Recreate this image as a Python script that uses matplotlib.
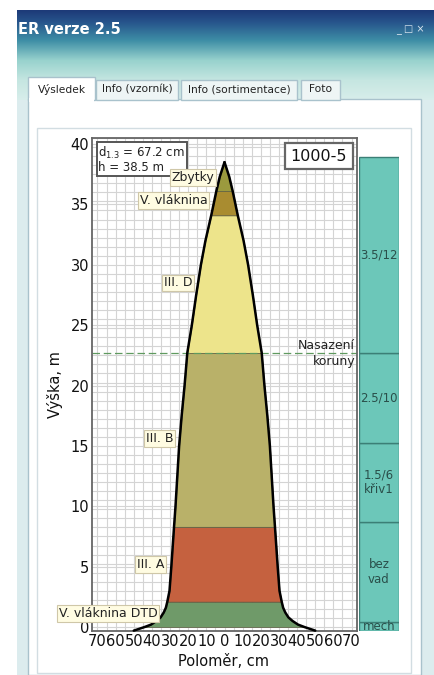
import numpy as np
import matplotlib
matplotlib.use("Agg")
import matplotlib.pyplot as plt
from matplotlib.patches import Rectangle

plt.rcParams['font.family'] = ['DejaVu Sans']

# stem profile: height (m) -> radius (cm)
heights = [-0.3, -0.15, 0.0, 0.2, 0.5, 0.8, 1.2, 1.6, 2.1, 3.0, 5.0, 8.3, 10.0, 12.5,
           15.0, 17.5, 20.0, 22.7, 25.0, 27.5, 30.0, 32.0, 34.1, 36.1, 37.3, 38.5]
radii = [50.0, 47.0, 44.0, 40.5, 37.5, 35.2, 33.5, 32.3, 31.5, 30.3, 29.3, 27.8, 27.0, 26.0,
         25.0, 23.6, 22.0, 20.5, 18.0, 15.6, 13.0, 10.5, 7.3, 4.5, 2.6, 0.0]

# assortment bands along the stem
band_names = ["V. vláknina DTD", "III. A", "III. B", "III. D", "V. vláknina", "Zbytky"]
band_lo = [0.0, 2.1, 8.3, 22.7, 34.1, 36.1]
band_hi = [2.1, 8.3, 22.7, 34.1, 36.1, 38.5]
band_colors = ["#6f9a69", "#c5613f", "#b9b169", "#ede48b", "#a98c30", "#9b9a3e"]
label_x = [-37.0, -33.0, -28.2, -17.7, -9.4, -5.5]
label_h = [1.1, 5.2, 15.6, 28.5, 35.3, 37.2]

# quality sections (side bar)
sec_labels = ["mech", "bez\nvad", "1.5/6\nkřiv1", "2.5/10", "3.5/12"]
sec_lo = [-0.33, 0.4, 8.7, 15.25, 22.7]
sec_hi = [0.4, 8.7, 15.25, 22.7, 38.9]

crown_base = 22.7
d13 = 67.2
tree_h = 38.5
tree_id = "1000-5"

x_ticks = list(range(-70, 71, 10))
y_ticks = list(range(0, 41, 5))

W, H = 435, 675
fig = plt.figure(figsize=(W / 100, H / 100), dpi=100)

# ---- window chrome ----
bg = fig.add_axes([0, 0, 1, 1])
bg.set_xlim(0, W)
bg.set_ylim(H, 0)
bg.axis("off")

bg.add_patch(Rectangle((17, 100), W - 17, H - 100, facecolor="#dcecee", edgecolor="none"))
stops_y = [0, 12, 30, 50, 70, 90]
stops_c = np.array([[0x1d, 0x3a, 0x78], [0x27, 0x55, 0x8c], [0x3e, 0x8e, 0xa6],
                    [0x98, 0xd2, 0xcd], [0xc6, 0xe6, 0xe1], [0xd8, 0xee, 0xeb]]) / 255
rows = np.arange(90)
grad = np.stack([np.interp(rows, stops_y, stops_c[:, k]) for k in range(3)], axis=1)
bg.imshow(grad[:, None, :], extent=(17, W, 100, 10), aspect="auto", origin="upper", zorder=1)
bg.text(18, 29, "ER verze 2.5", color="white", fontsize=10.5, fontweight="bold",
        va="center", ha="left", zorder=3)
bg.text(425, 30, "_ □ ×", color="#d8e4ee", fontsize=7, va="center", ha="right", zorder=3)

# tab panel
bg.add_patch(Rectangle((28, 99), 393, H - 99, facecolor="white", edgecolor="#a9c2cc", lw=1, zorder=2))
tabs = [("Výsledek", 28, 95), ("Info (vzorník)", 96, 178),
        ("Info (sortimentace)", 181, 297), ("Foto", 301, 340)]
for i, (t, x0, x1) in enumerate(tabs):
    top = 77 if i == 0 else 80
    fc = "white" if i == 0 else "#eef5f5"
    bg.add_patch(Rectangle((x0, top), x1 - x0, 100 - top, facecolor=fc,
                           edgecolor="#a9c2cc", lw=1, zorder=3))
    bg.text((x0 + x1) / 2, 89.5, t, fontsize=7.7, color="#222222", ha="center", va="center", zorder=4)
bg.add_patch(Rectangle((29, 98), 65, 4, facecolor="white", edgecolor="none", zorder=4))
bg.add_patch(Rectangle((37, 128), 374, 545, facecolor="white", edgecolor="#d2dde2", lw=1, zorder=3))

# ---- main chart ----
ax = fig.add_axes([92 / W, 1 - 631 / H, 265 / W, (631 - 138) / H])
ax.set_xlim(-73, 73)
ax.set_ylim(-0.33, 40.5)
ax.set_xticks(x_ticks)
ax.set_xticklabels([str(abs(v)) for v in x_ticks])
ax.set_yticks(y_ticks)
ax.set_xticks(np.arange(-70, 71, 5), minor=True)
ax.set_yticks(np.arange(0, 40.6, 0.75), minor=True)
ax.grid(which="minor", color="#d4d4d4", lw=0.8)
ax.grid(which="major", color="#d4d4d4", lw=0.8)
ax.set_axisbelow(True)
ax.tick_params(which="both", length=0, labelsize=10.5, colors="#111111", pad=2)
for s in ax.spines.values():
    s.set_color("#666666")
    s.set_linewidth(1.3)

h_arr = np.array(heights)
r_arr = np.array(radii)
for lo, hi, c in zip(band_lo, band_hi, band_colors):
    m = (h_arr >= lo) & (h_arr <= hi)
    ax.fill_betweenx(h_arr[m], -r_arr[m], r_arr[m], facecolor=c,
                     edgecolor="#5a5a40", lw=0.5, zorder=2)
for sgn in (-1, 1):
    ax.plot(sgn * r_arr, h_arr, color="black", lw=1.8, zorder=3, clip_on=False,
            solid_joinstyle="round", solid_capstyle="round")

ax.axhline(crown_base, color="#5f9a5f", lw=0.9, ls=(0, (6, 3)), zorder=2.5)
ax.text(72, crown_base + 0.6, "Nasazení", ha="right", va="center", fontsize=9, color="#222222", zorder=4)
ax.text(72, crown_base - 0.75, "koruny", ha="right", va="center", fontsize=9, color="#222222", zorder=4)

for name, lx, lh in zip(band_names, label_x, label_h):
    ax.text(lx, lh, name, ha="right", va="center", fontsize=9, color="#222222", zorder=5,
            clip_on=False,
            bbox=dict(boxstyle="square,pad=0.15", facecolor="#fffce2", edgecolor="#cfc7a8", lw=0.8))

ax.text(-69.5, 39.9, "d$_{1.3}$ = %.1f cm\nh = %.1f m" % (d13, tree_h), ha="left", va="top",
        fontsize=8.5, color="#222222", linespacing=0.95, zorder=4,
        bbox=dict(boxstyle="square,pad=0.15", facecolor="white", edgecolor="#555555", lw=1.4))
ax.text(52, 39.0, tree_id, ha="center", va="center", fontsize=11.5, color="#111111", zorder=5,
        bbox=dict(boxstyle="square,pad=0.35", facecolor="white", edgecolor="#666666", lw=1.6))

fig.text(55 / W, 1 - 385 / H, "Výška, m", rotation=90, ha="center", va="center",
         fontsize=10.5, color="#111111")
fig.text(224 / W, 1 - 662 / H, "Poloměr, cm", ha="center", va="center",
         fontsize=10.5, color="#111111")

# ---- quality side bar ----
sb = fig.add_axes([359 / W, 1 - 631 / H, 40 / W, (631 - 138) / H])
sb.set_xlim(-0.5, 0.5)
sb.set_ylim(-0.33, 40.5)
sb.axis("off")
sb.bar([0] * len(sec_lo), [hi - lo for lo, hi in zip(sec_lo, sec_hi)], bottom=sec_lo,
       width=1.0, color="#6cc7b9", edgecolor="#3b7f76", lw=1.0)
for t, lo, hi in zip(sec_labels, sec_lo, sec_hi):
    sb.text(0, (lo + hi) / 2, t, ha="center", va="center", fontsize=8.5, color="#2a4f4a",
            linespacing=1.2, clip_on=False)

fig.savefig("out.png", dpi=100)
